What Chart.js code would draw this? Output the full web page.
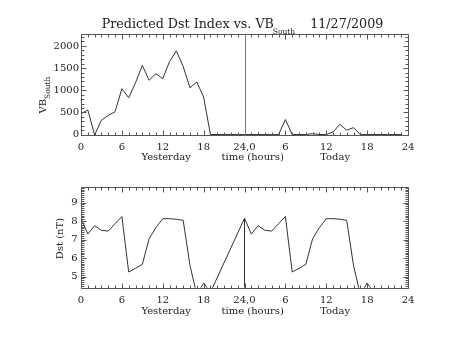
<!DOCTYPE html>
<html>
<head>
<meta charset="utf-8">
<script src="https://cdn.jsdelivr.net/npm/chart.js@4.4.1/dist/chart.umd.min.js"></script>
<style>
html, body { margin: 0; padding: 0; background: #fff; }
#wrap { position: relative; width: 453px; height: 340px; }
canvas { position: absolute; left: 0; }
#vbChart { top: 0; }
#dstChart { top: 170px; }
</style>
</head>
<body>
<div id="wrap">
<canvas id="vbChart" width="453" height="170"></canvas>
<canvas id="dstChart" width="453" height="170"></canvas>
</div>
<script>
// hourly values, yesterday 0-23 then today 24-47
const vbSouth = [470, 555, -10, 325, 430, 515, 1035, 830, 1170, 1562, 1225, 1375, 1260,
    1650, 1887, 1535, 1055, 1185, 845, 0, 0, 0, 0, 0, 0, 0, 0, 0, 0, 0, 340, 0, 0, 0, 20,
    0, 0, 60, 230, 100, 155, 0, 0, 0, 0, 0, 0, 0];
// predicted Dst, hours 20-23 missing
const dstNt = [8.15, 7.3, 7.75, 7.5, 7.46, 7.86, 8.25, 5.25, 5.45, 5.66, 7.05, 7.65, 8.13,
    8.13, 8.1, 8.04, 5.6, 4.02, 4.65, 4.15, null, null, null, null, 8.15, 7.3, 7.75, 7.5,
    7.46, 7.86, 8.25, 5.25, 5.45, 5.66, 7.05, 7.65, 8.13, 8.13, 8.1, 8.04, 5.6, 4.02, 4.65, 4.15];

const xTickValues = [0, 6, 12, 18, 24, 30, 36, 42, 48];
const xTickLabels = ['0', '6', '12', '18', '24,0', '6', '12', '18', '24'];
const vbTicks = [0, 500, 1000, 1500, 2000];
const dstTicks = [5, 6, 7, 8, 9];
const dayLabels = ['Yesterday', 'time (hours)', 'Today'];

const vbRange = [-10, 2280];
const dstRange = [4.4, 9.87];

Chart.defaults.font.family = '"DejaVu Serif", serif';
Chart.defaults.font.size = 10;
Chart.defaults.color = '#222';

const LINE = '#333';
const FRAME = '#555';

// IDL-style box with inward ticks on all four sides
const idlFrame = {
    id: 'idlFrame',
    afterDraw(chart, args, opts) {
        const { ctx, chartArea: a, scales: { x, y } } = chart;
        const L = Math.round(a.left) + 0.5, R = Math.round(a.right) + 0.5;
        const T = Math.round(a.top) + 0.5, B = Math.round(a.bottom) + 0.5;
        const isMajor = (v, m) => Math.abs(v / m - Math.round(v / m)) < 1e-6;
        ctx.save();
        ctx.strokeStyle = FRAME;
        ctx.lineWidth = 1;
        ctx.beginPath();
        ctx.rect(L, T, R - L, B - T);
        for (let k = Math.ceil(x.min / opts.xMinor - 1e-9); k * opts.xMinor <= x.max + 1e-9; k++) {
            const v = k * opts.xMinor;
            const px = Math.round(x.getPixelForValue(v)) + 0.5;
            const len = isMajor(v, opts.xMajor) ? 5 : 3;
            ctx.moveTo(px, B); ctx.lineTo(px, B - len);
            ctx.moveTo(px, T); ctx.lineTo(px, T + len);
        }
        for (let k = Math.ceil(y.min / opts.yMinor - 1e-9); k * opts.yMinor <= y.max + 1e-9; k++) {
            const v = k * opts.yMinor;
            const py = Math.round(y.getPixelForValue(v)) + 0.5;
            const len = isMajor(v, opts.yMajor) ? 5 : 3;
            ctx.moveTo(L, py); ctx.lineTo(L + len, py);
            ctx.moveTo(R, py); ctx.lineTo(R - len, py);
        }
        ctx.stroke();
        if (opts.separator !== undefined) {
            const sx = Math.round(x.getPixelForValue(opts.separator)) + 0.5;
            ctx.strokeStyle = '#777';
            ctx.beginPath();
            ctx.moveTo(sx, T); ctx.lineTo(sx, B);
            ctx.stroke();
        }
        ctx.restore();
    }
};

// titles: plot title, y title with subscript, day labels under the time axis
const idlText = {
    id: 'idlText',
    afterDraw(chart, args, opts) {
        const { ctx, chartArea: a, scales: { x } } = chart;
        ctx.save();
        ctx.fillStyle = '#222';
        ctx.textBaseline = 'alphabetic';

        if (opts.title) {
            const big = '12.7px "DejaVu Serif"', small = '7.5px "DejaVu Serif"';
            ctx.font = big;
            const w1 = ctx.measureText(opts.title[0]).width;
            const w3 = ctx.measureText(opts.title[2]).width;
            ctx.font = small;
            const w2 = ctx.measureText(opts.title[1]).width;
            const gap = 14;
            const tx = (a.left + a.right) / 2 - 2 - (w1 + w2 + gap + w3) / 2;
            ctx.font = big;
            ctx.fillText(opts.title[0], tx, 28);
            ctx.fillText(opts.title[2], tx + w1 + w2 + gap, 28);
            ctx.font = small;
            ctx.fillText(opts.title[1], tx + w1 - 1, 33.5);
        }

        // rotated y title
        ctx.save();
        ctx.translate(opts.yTitleX, opts.yTitleY);
        ctx.rotate(-Math.PI / 2);
        ctx.font = '10px "DejaVu Serif"';
        const m1 = ctx.measureText(opts.yTitle[0]).width;
        let m2 = 0;
        if (opts.yTitle[1]) {
            ctx.font = '7.5px "DejaVu Serif"';
            m2 = ctx.measureText(opts.yTitle[1]).width;
        }
        const start = -(m1 + m2) / 2;
        ctx.font = '10px "DejaVu Serif"';
        ctx.fillText(opts.yTitle[0], start, 0);
        if (opts.yTitle[1]) {
            ctx.font = '7.5px "DejaVu Serif"';
            ctx.fillText(opts.yTitle[1], start + m1, 3.5);
        }
        ctx.restore();

        ctx.font = '10px "DejaVu Serif"';
        ctx.textAlign = 'center';
        const centers = [12.5, 25.2, 37.3];
        dayLabels.forEach((t, i) => {
            ctx.fillText(t, x.getPixelForValue(centers[i]), opts.dayY);
        });
        ctx.restore();
    }
};

function timeAxis(height, pad) {
    return {
        type: 'linear',
        min: 0,
        max: 48,
        grid: { display: false, drawTicks: false },
        border: { display: false },
        afterBuildTicks: s => { s.ticks = xTickValues.map(v => ({ value: v })); },
        afterFit: s => { s.height = height; },
        ticks: {
            autoSkip: false,
            maxRotation: 0,
            padding: pad,
            callback: (v, i) => xTickLabels[i]
        }
    };
}

function valueAxis(range, ticks, pad) {
    return {
        type: 'linear',
        min: range[0],
        max: range[1],
        grid: { display: false, drawTicks: false },
        border: { display: false },
        afterBuildTicks: s => { s.ticks = ticks.map(v => ({ value: v })); },
        afterFit: s => { s.width = 81; },
        ticks: { padding: pad, callback: v => String(v) }
    };
}

new Chart(document.getElementById('vbChart'), {
    type: 'line',
    data: {
        datasets: [{
            data: vbSouth.map((v, h) => ({ x: h, y: v })),
            borderColor: LINE,
            borderWidth: 1,
            pointRadius: 0,
            tension: 0
        }]
    },
    options: {
        responsive: false,
        animation: false,
        layout: { padding: { top: 33.5, right: 45, left: 0, bottom: 0 } },
        scales: {
            x: timeAxis(35, 6),
            y: valueAxis(vbRange, vbTicks, 2)
        },
        plugins: {
            legend: { display: false },
            tooltip: { enabled: false },
            idlFrame: { xMinor: 1, xMajor: 6, yMinor: 100, yMajor: 500, separator: 24 },
            idlText: {
                title: ['Predicted Dst Index vs. VB', 'South', '11/27/2009'],
                yTitle: ['VB', 'South'],
                yTitleX: 46,
                yTitleY: 95,
                dayY: 160
            }
        }
    },
    plugins: [idlFrame, idlText]
});

new Chart(document.getElementById('dstChart'), {
    type: 'line',
    data: {
        datasets: [{
            data: dstNt.map((v, h) => ({ x: h, y: v })),
            borderColor: LINE,
            borderWidth: 1,
            pointRadius: 0,
            tension: 0,
            spanGaps: true
        }, {
            // day boundary drawn up to the first value of today
            data: [{ x: 24, y: dstRange[0] }, { x: 24, y: dstNt[24] }],
            borderColor: LINE,
            borderWidth: 1,
            pointRadius: 0
        }]
    },
    options: {
        responsive: false,
        animation: false,
        layout: { padding: { top: 16.5, right: 45, left: 0, bottom: 0 } },
        scales: {
            x: timeAxis(52.3, 7),
            y: valueAxis(dstRange, dstTicks, 3.5)
        },
        plugins: {
            legend: { display: false },
            tooltip: { enabled: false },
            idlFrame: { xMinor: 1, xMajor: 6, yMinor: 0.1, yMajor: 1 },
            idlText: {
                yTitle: ['Dst (nT)'],
                yTitleX: 63,
                yTitleY: 68.5,
                dayY: 143.5
            }
        }
    },
    plugins: [idlFrame, idlText]
});
</script>
</body>
</html>
